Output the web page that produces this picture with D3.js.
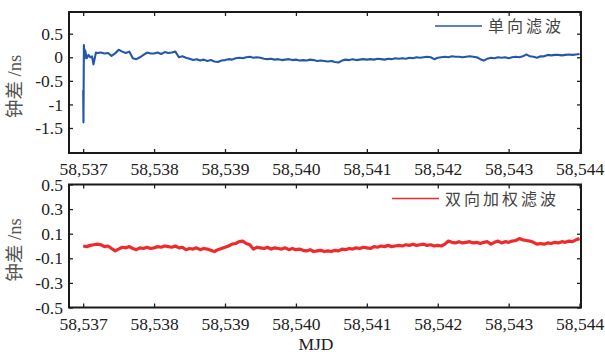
<!DOCTYPE html>
<html>
<head>
<meta charset="utf-8">
<script src="https://cdn.jsdelivr.net/npm/d3@7"></script>
<style>
  body { margin: 0; background: #fff; }
  svg text { font-family: "Liberation Serif", "Noto Sans CJK SC", serif; fill: #222; }
</style>
</head>
<body>
<div id="chart"></div>
<script>
// x axis ticks (MJD)
const mjdTicks = [58537, 58538, 58539, 58540, 58541, 58542, 58543, 58544];
const topTicks = [0.5, 0, -0.5, -1, -1.5];
const botTicks = [0.5, 0.3, 0.1, -0.1, -0.3, -0.5];

// single direction filter: start-up transient [day offset, ns]
const blueHead = [
  [0, -0.7], [0.004, -1.38], [0.01, 0.26], [0.018, -0.03], [0.028, 0.15],
  [0.05, -0.02], [0.075, 0.05], [0.1, 0.0], [0.125, 0.02], [0.145, -0.15], [0.18, 0.1]
];
// then every 0.05 day from offset 0.2
const blueVals = [
  0.09, 0.1, 0.08, 0.09, 0.03, 0.08,
  0.16, 0.12, 0.09, 0.12, -0.02, -0.04, 0.0, 0.05, 0.1, 0.08,
  0.08, 0.1, 0.07, 0.11, 0.09, 0.1, 0.12, 0.0, 0.02, -0.01,
  -0.03, -0.06, -0.04, -0.07, -0.05, -0.08, -0.06, -0.09, -0.1, -0.07,
  -0.06, -0.04, -0.05, -0.02, -0.01, -0.02, 0.0, 0.01, -0.01, 0.0,
  -0.01, -0.03, -0.04, -0.03, -0.05, -0.04, -0.06, -0.05, -0.04, -0.06,
  -0.05, -0.07, -0.06, -0.07, -0.05, -0.06, -0.08, -0.07, -0.08, -0.09,
  -0.08, -0.1, -0.11, -0.07, -0.05, -0.06, -0.04, -0.06, -0.05, -0.04,
  -0.05, -0.04, -0.05, -0.03, -0.04, -0.05, -0.03, -0.04, -0.02, -0.03,
  -0.02, -0.03, -0.01, -0.02, 0.0, -0.01, 0.0, 0.01, 0.0, -0.04,
  -0.01, 0.0, 0.01, 0.0, 0.02, 0.01, 0.01, 0.0, 0.01, 0.02,
  0.01, 0.0, -0.04, -0.07, -0.03, -0.01, -0.02, 0.0, -0.01, 0.0,
  -0.02, 0.0, 0.01, 0.0, 0.02, 0.06, 0.02, 0.01, -0.01, 0.02,
  0.02, 0.05, 0.04, 0.05, 0.05, 0.04, 0.05, 0.06, 0.05, 0.06,
  0.07
];

// two-way weighted filter, every 0.05 day from offset 0
const redVals = [
  0.0, -0.005, 0.005, 0.01, 0.015, 0.01, -0.005, 0.0, -0.02, -0.04,
  -0.025, -0.01, -0.015, -0.005, -0.02, -0.03, -0.015, -0.02, -0.01, -0.02,
  -0.015, -0.005, -0.01, 0.0, -0.005, -0.01, 0.0, -0.015, -0.01, -0.03,
  -0.02, -0.025, -0.015, -0.03, -0.02, -0.025, -0.035, -0.045, -0.03, -0.02,
  -0.01, 0.0, 0.015, 0.02, 0.035, 0.04, 0.02, 0.01, -0.025, -0.01,
  -0.015, -0.02, -0.01, -0.025, -0.015, -0.02, -0.025, -0.015, -0.03, -0.02,
  -0.03, -0.025, -0.035, -0.04, -0.03, -0.045, -0.04, -0.035, -0.045, -0.04,
  -0.045, -0.035, -0.04, -0.025, -0.03, -0.02, -0.025, -0.015, -0.02, -0.01,
  -0.015, -0.02, -0.005, -0.01, 0.0, -0.005, 0.005, -0.005, 0.0, 0.005,
  0.0, 0.01, 0.005, 0.015, 0.005, 0.01, 0.015, 0.005, 0.01, 0.0,
  0.005, 0.0, 0.015, 0.04, 0.03, 0.025, 0.035, 0.025, 0.03, 0.035,
  0.025, 0.03, 0.02, 0.03, 0.035, 0.015, 0.03, 0.04, 0.025, 0.035,
  0.03, 0.04, 0.045, 0.06, 0.05, 0.045, 0.04, 0.03, 0.015, 0.02,
  0.015, 0.025, 0.02, 0.03, 0.025, 0.035, 0.03, 0.04, 0.035, 0.05,
  0.06
];

const mjd0 = 58537, step = 0.05;

// build point lists
let blueData = blueHead.map(d => [mjd0 + d[0], d[1]])
  .concat(blueVals.map((v, i) => [mjd0 + 0.2 + i * step, v]));
let redData = redVals.map((v, i) => [mjd0 + i * step, v]);

const W = 605, H = 352;
const left = 69, right = 581;

const svg = d3.select('#chart').append('svg')
  .attr('width', W)
  .attr('height', H);

const x = d3.scaleLinear()
  .domain([58536.8, 58544.02])
  .range([left, right]);

// draws one panel with frame, inward ticks on all four sides
const drawPanel = (opt) => {
  const y = d3.scaleLinear().domain(opt.domain).range([opt.bottom, opt.top]);
  const g = svg.append('g');

  g.append('g')
    .attr('transform', `translate(0,${opt.bottom})`)
    .call(d3.axisBottom(x).tickValues(mjdTicks).tickFormat(d3.format(',')).tickSize(-4).tickPadding(10))
    .call(a => a.select('.domain').remove())
    .selectAll('text').attr('font-size', 17.5);

  g.append('g')
    .attr('transform', `translate(0,${opt.top})`)
    .call(d3.axisTop(x).tickValues(mjdTicks).tickSize(-4).tickFormat(''))
    .call(a => a.select('.domain').remove());

  g.append('g')
    .attr('transform', `translate(${left},0)`)
    .call(d3.axisLeft(y).tickValues(opt.ticks).tickFormat(d => String(d)).tickSize(-4).tickPadding(6))
    .call(a => a.select('.domain').remove())
    .selectAll('text').attr('font-size', 17.5);

  g.append('g')
    .attr('transform', `translate(${right},0)`)
    .call(d3.axisRight(y).tickValues(opt.ticks).tickSize(-4).tickFormat(''))
    .call(a => a.select('.domain').remove());

  g.selectAll('.tick line').attr('stroke', '#222').attr('stroke-width', 1.3);

  const line = d3.line()
    .x(d => x(d[0]))
    .y(d => y(d[1]));

  g.append('path')
    .datum(opt.data)
    .attr('fill', 'none')
    .attr('stroke', opt.color)
    .attr('stroke-width', opt.width)
    .attr('stroke-linejoin', 'round')
    .attr('d', line);

  g.append('rect')
    .attr('x', left)
    .attr('y', opt.top)
    .attr('width', right - left)
    .attr('height', opt.bottom - opt.top)
    .attr('fill', 'none')
    .attr('stroke', '#1a1a1a')
    .attr('stroke-width', 2);

  // y label
  const cy = (opt.top + opt.bottom) / 2 + 4;
  g.append('text')
    .attr('transform', `translate(21,${cy}) rotate(-90)`)
    .attr('text-anchor', 'middle')
    .attr('font-size', 18.5)
    .style('fill', '#555')
    .text('钟差 /ns');

  // legend
  g.append('line')
    .attr('x1', opt.legX).attr('x2', opt.legX + 47)
    .attr('y1', opt.top + 14).attr('y2', opt.top + 14)
    .attr('stroke', opt.color)
    .attr('stroke-width', 1.6);

  g.append('text')
    .attr('x', opt.legX + 53)
    .attr('y', opt.top + 20)
    .attr('font-size', 16)
    .attr('letter-spacing', 3)
    .style('fill', '#444')
    .text(opt.name);
};

drawPanel({
  top: 12, bottom: 153,
  domain: [-2.03, 0.96],
  ticks: topTicks,
  data: blueData,
  color: '#2457aa',
  width: 2.1,
  name: '单向滤波',
  legX: 435
});

drawPanel({
  top: 184.5, bottom: 307.5,
  domain: [-0.5, 0.5],
  ticks: botTicks,
  data: redData,
  color: '#f02a2a',
  width: 3.2,
  name: '双向加权滤波',
  legX: 392
});

svg.append('text')
  .attr('x', 316)
  .attr('y', 350)
  .attr('text-anchor', 'middle')
  .attr('font-size', 17.5)
  .text('MJD');
</script>
</body>
</html>
